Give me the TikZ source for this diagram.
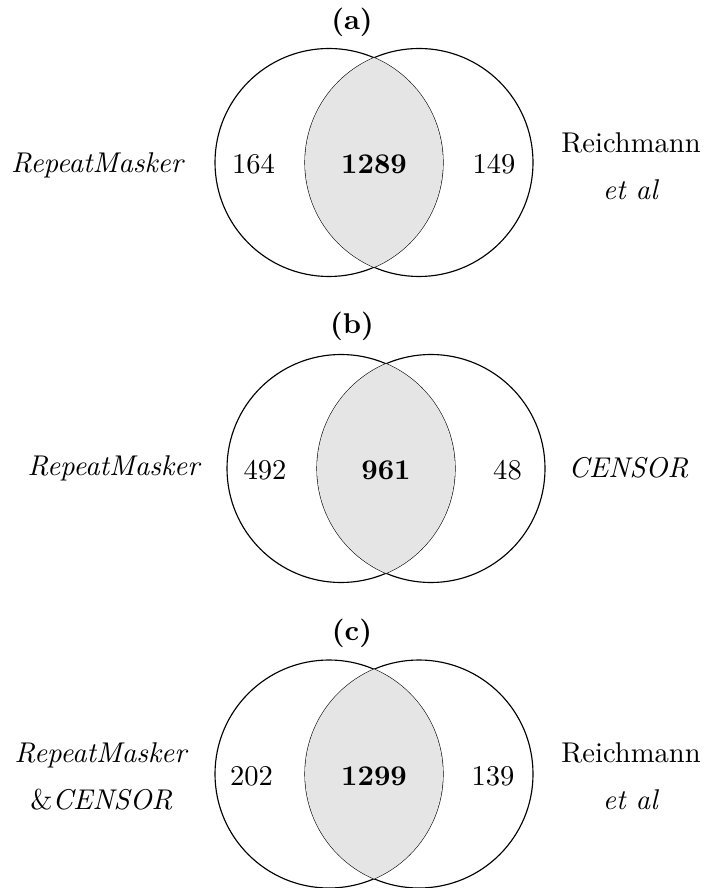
\documentclass[tikz,border=0pt]{standalone}
\usepackage{amsmath}

\tikzset{
    setcircle/.style={draw,circle,minimum size=79.8pt,inner sep=0pt},
    lens/.style={fill=black!10},
    count/.style={inner sep=0pt},
    tag/.style={font=\bfseries,inner sep=0pt},
    setname/.style={align=center,inner sep=0pt}
}

\begin{document}
\begin{tikzpicture}[x=0.35pt,y=-0.35pt]
    \useasboundingbox (0,0) rectangle (705,888);

    % (a)
    \node[tag] (taga) at (352,22) {(a)};
    \node[setcircle] (la) at (329,162.5) {};
    \node[setcircle] (ra) at (419,162.5) {};
    \begin{scope}
        \clip (la.center) circle (39.9pt);
        \fill[lens] (ra.center) circle (39.9pt);
    \end{scope}
    \node[count] (onlyla) at (253.5,164.5) {164};
    \node[count] (botha) at (374,164.5) {\textbf{1289}};
    \node[count] (onlyra) at (494,164.5) {149};
    \node[setname] (namela) at (98,165) {\textit{RepeatMasker}};
    \node[setname] (namera) at (631,166.5) {Reichmann\\[4.4pt]\textit{et al}};

    % (b)
    \node[tag] (tagb) at (352,326) {(b)};
    \node[setcircle] (lb) at (341,468.5) {};
    \node[setcircle] (rb) at (431,468.5) {};
    \begin{scope}
        \clip (lb.center) circle (39.9pt);
        \fill[lens] (rb.center) circle (39.9pt);
    \end{scope}
    \node[count] (onlylb) at (265,470) {492};
    \node[count] (bothb) at (386,470) {\textbf{961}};
    \node[count] (onlyrb) at (507.5,470) {48};
    \node[setname] (namelb) at (114.5,468) {\textit{RepeatMasker}};
    \node[setname] (namerb) at (628.5,468) {\textit{CENSOR}};

    % (c)
    \node[tag] (tagc) at (352,633) {(c)};
    \node[setcircle] (lc) at (329,774) {};
    \node[setcircle] (rc) at (419,774) {};
    \begin{scope}
        \clip (lc.center) circle (39.9pt);
        \fill[lens] (rc.center) circle (39.9pt);
    \end{scope}
    \node[count] (onlylc) at (251.5,776) {202};
    \node[count] (bothc) at (374,776) {\textbf{1299}};
    \node[count] (onlyrc) at (493,776) {139};
    \node[setname] (namelc) at (101.5,776.5) {\textit{RepeatMasker}\\[4.4pt]\&\textit{CENSOR}};
    \node[setname] (namerc) at (631,776.5) {Reichmann\\[4.4pt]\textit{et al}};
\end{tikzpicture}
\end{document}
